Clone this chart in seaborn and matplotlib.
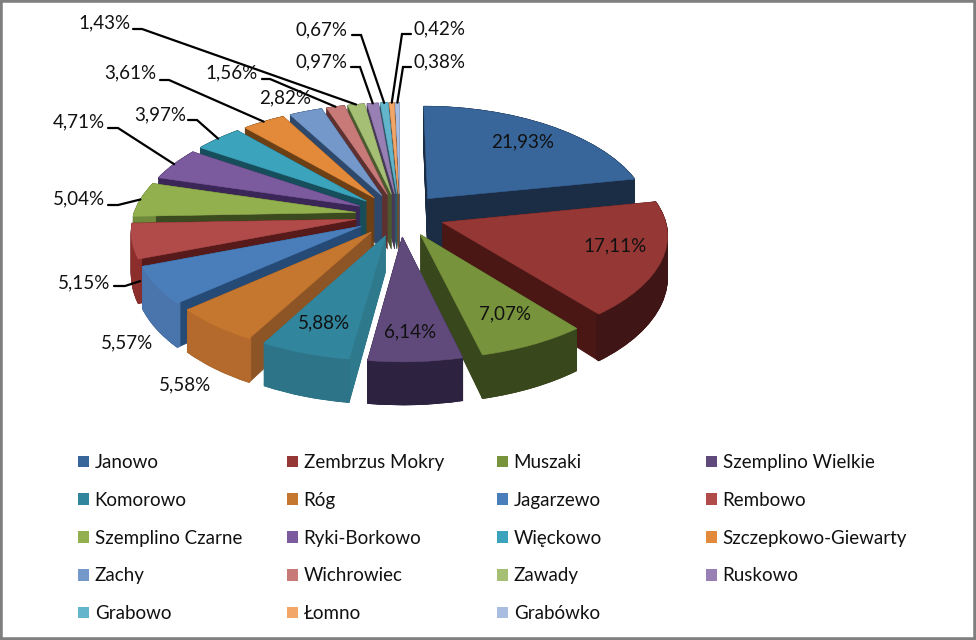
import numpy as np
import matplotlib
matplotlib.use('Agg')
import matplotlib.pyplot as plt
from matplotlib.patches import Patch, Rectangle
from matplotlib.transforms import Affine2D, Transform
import seaborn as sns

names = ['Janowo', 'Zembrzus Mokry', 'Muszaki', 'Szemplino Wielkie', 'Komorowo', 'Róg',
         'Jagarzewo', 'Rembowo', 'Szemplino Czarne', 'Ryki-Borkowo', 'Więckowo',
         'Szczepkowo-Giewarty', 'Zachy', 'Wichrowiec', 'Zawady', 'Ruskowo', 'Grabowo',
         'Łomno', 'Grabówko']
values = [21.93, 17.11, 7.07, 6.14, 5.88, 5.58, 5.57, 5.15, 5.04, 4.71, 3.97, 3.61,
          2.82, 1.56, 1.43, 0.97, 0.67, 0.42, 0.38]

top_colors = ['#38659A', '#953735', '#77933C', '#604A7B', '#31859C', '#C5762F', '#4A7EBB',
              '#B14B49', '#93B04F', '#7C5A9E', '#3BA3BC', '#E38A3A', '#7398C9', '#C87A78',
              '#A5C074', '#9880B4', '#63B5CC', '#F2A668', '#A8BDE0']
face_colors = ['#1A2D45', '#4A1715', '#39471C', '#2D2240', '#2E7A8C', '#8D5525', '#254A75',
               '#571A1A', '#3C4A20', '#3B2757', '#164E5C', '#6D3F14', '#2E486C', '#5E3130',
               '#4B5A2F', '#463A58', '#2B5A68', '#7A4E2C', '#4E5A70']
rim_colors = ['#1A2D45', '#3F1615', '#39471C', '#2D2240', '#2E7489', '#B36A2C', '#4A75AC',
              '#8C2E2C', '#6E8A3A', '#3B2757', '#164E5C', '#6D3F14', '#2E486C', '#5E3130',
              '#4B5A2F', '#463A58', '#2B5A68', '#7A4E2C', '#4E5A70']

# label centres in pixels, (x, y) from top left
label_pos = [(523, 142), (615, 246), (505, 314), (410, 332), (324, 323), (185, 385),
             (127, 343), (84, 283), (79, 199), (79, 122), (160, 115), (130, 73),
             (285, 98), (232, 73), (104, 23), (322, 62), (322, 30), (439, 29), (439, 62)]
# short horizontal stub of the leader line, None means no leader
stubs = [None, None, None, None, None, None, None, (114, 125, 286), (108, 118, 205),
         (108, 118, 128), (188, 197, 120), (160, 169, 80), None, (262, 270, 79),
         (133, 142, 29), (351, 360, 67), (352, 361, 35), (411, 402, 34), (411, 403, 67)]
# Rembowo's leader lands low on the side of the slice
tip_shift = {7: (8, 40)}

W, H = 976, 640
CX, CY = 400, 215
RX = 222.5
EXPLODE = 0.2
DEPTH_PX = 43
LAYERS = 40
A, B = 108.0, -12.0
K_BACK, K_FRONT = 0.14, 0.10


def forward(y):
    y = np.asarray(y, dtype=float)
    return A * y + B * y ** 2


def inverse(s):
    s = np.asarray(s, dtype=float)
    return (-A + np.sqrt(np.maximum(A ** 2 + 4 * B * s, 0))) / (2 * B)


# front of the pie comes out wider than the back
class Perspective(Transform):
    input_dims = 2
    output_dims = 2

    def transform_non_affine(self, values):
        values = np.asarray(values, dtype=float)
        k = np.where(values[:, 1] > 0, K_BACK, K_FRONT)
        return np.column_stack([values[:, 0] * (1 - k * values[:, 1]), values[:, 1]])


sns.set_theme(style='white')
plt.rcParams['font.family'] = ['Lato', 'DejaVu Sans']

fig = plt.figure(figsize=(W / 100, H / 100), dpi=100, facecolor='white')
ax = fig.add_axes([0, 0, 1, 1])
px = Affine2D().scale(1, -1).translate(0, H)
persp = Perspective()

explode = [EXPLODE] * len(values)
shares = np.array(values) / sum(values)
mids = 2 * np.pi * (np.cumsum(shares) - shares / 2)
# back slices get painted first
order = np.argsort(np.argsort(-np.cos(mids)))
# same depth on screen for every slice
rim_y = (1 + EXPLODE) * np.cos(mids)
depths = rim_y - inverse(forward(rim_y) - DEPTH_PX)

pie_args = dict(explode=explode, startangle=90, counterclock=False, normalize=True)


def place(wedge, drop, z, color):
    wedge.set_edgecolor(color)
    wedge.set_zorder(z)
    wedge.set_transform(persp + Affine2D().translate(0, -drop) + ax.transData)


for k in range(LAYERS, -1, -1):
    faces, _ = ax.pie(values, colors=face_colors, wedgeprops=dict(linewidth=0.6), **pie_args)
    rims, _ = ax.pie(values, colors=rim_colors,
                     wedgeprops=dict(width=0.015, linewidth=0.6), **pie_args)
    for i in range(len(values)):
        drop = depths[i] * k / LAYERS
        place(faces[i], drop, 10 + order[i] * 1000 + (LAYERS - k), face_colors[i])
        place(rims[i], drop, 10 + order[i] * 1000 + 100 + (LAYERS - k), rim_colors[i])

tops, _ = ax.pie(values, colors=sns.color_palette(top_colors),
                 wedgeprops=dict(linewidth=0.4), **pie_args)
for i, w in enumerate(tops):
    place(w, 0, 10 + order[i] * 1000 + 500, top_colors[i])

ax.set_aspect('auto')
ax.set_yscale('function', functions=(forward, inverse))
ax.set_xlim(-CX / RX, (W - CX) / RX)
ax.set_ylim(inverse(CY - H), inverse(CY))
ax.axis('off')
ax.set_position([0, 0, 1, 1])

# labels and leader lines
fig.canvas.draw()
for i, v in enumerate(values):
    ax.text(*label_pos[i], f'{v:.2f}%'.replace('.', ','), transform=px, fontsize=13.5,
            color='#111111', ha='center', va='center', zorder=50000)
    if stubs[i] is None:
        continue
    w = tops[i]
    th = np.deg2rad((w.theta1 + w.theta2) / 2)
    tip = [[w.center[0] + w.r * np.cos(th), w.center[1] + w.r * np.sin(th)]]
    tx, ty = px.inverted().transform((persp + ax.transData).transform(tip))[0]
    dx, dy = tip_shift.get(i, (0, 0))
    x0, x1, sy = stubs[i]
    ax.plot([x0, x1, tx + dx], [sy, sy, ty + dy], transform=px, color='black', lw=1.6,
            solid_joinstyle='miter', zorder=40000, scalex=False, scaley=False)

# legend, one block per column
col_x = [78, 287, 497, 706]
handles = [Patch(facecolor=c, edgecolor='none') for c in top_colors]
for c in range(4):
    idx = list(range(c, len(names), 4))
    fig.legend([handles[i] for i in idx], [names[i] for i in idx],
               loc='upper left', bbox_to_anchor=(col_x[c] / W, 1 - 454 / H),
               frameon=False, fontsize=13.5, borderpad=0, borderaxespad=0,
               handlelength=0.57, handleheight=0.57, handletextpad=0.32,
               labelspacing=1.11, labelcolor='#111111')

fig.add_artist(Rectangle((0, 0), 1, 1, transform=fig.transFigure, fill=False,
                         edgecolor='#7F7F7F', linewidth=4))

fig.savefig('out.png', dpi=100)
